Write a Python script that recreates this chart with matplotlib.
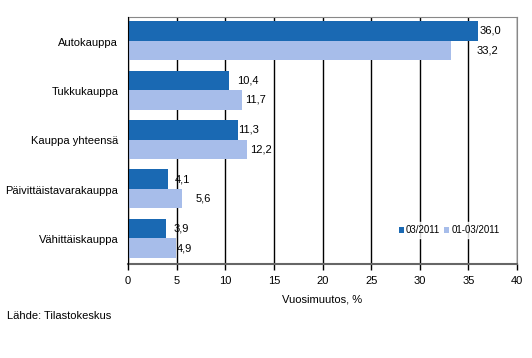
import matplotlib.pyplot as plt
import numpy as np

categories = ["Autokauppa", "Tukkukauppa", "Kauppa yhteensä",
              "Päivittäistavarakauppa", "Vähittäiskauppa"]
month = [36.0, 10.4, 11.3, 4.1, 3.9]
quarter = [33.2, 11.7, 12.2, 5.6, 4.9]
series_names = ["03/2011", "01-03/2011"]

# label nudges (pixels from bar end), as placed in the original
month_nudge = [1, 7.5, 0.5, 7, 7.5]
quarter_nudge = [25.5, 3.5, 3.5, 13.5, 1]

plt.rcParams["font.family"] = ["Liberation Sans", "DejaVu Sans"]
plt.rcParams["font.size"] = 8

fig = plt.figure(figsize=(5.32, 3.58), dpi=100)
ax = fig.add_axes([128 / 532, 1 - 264 / 358, 389 / 532, 247 / 358])

y = np.arange(len(categories))
h = 0.395
b1 = ax.barh(y - h / 2 - 0.02, month, height=h, color="#1A69B3", label=series_names[0], zorder=3)
b2 = ax.barh(y + h / 2 - 0.02, quarter, height=h, color="#A7BDEA", label=series_names[1], zorder=3)

fmt = lambda v: f"{v:.1f}".replace(".", ",")
for bars, vals, nudge in ((b1, month, month_nudge), (b2, quarter, quarter_nudge)):
    for bar, v, n in zip(bars, vals, nudge):
        ax.annotate(fmt(v), (bar.get_width(), bar.get_y() + bar.get_height() / 2),
                    xytext=(n * 0.72, 0), textcoords="offset points", va="center", ha="left",
                    zorder=1)

ax.set_xlim(0, 40)
ax.set_ylim(len(categories) - 0.5, -0.5)
ax.set_xticks(range(0, 41, 5))
ax.set_yticks(y)
ax.set_yticklabels(categories)
ax.tick_params(axis="y", length=0, pad=7)
ax.tick_params(axis="x", length=4, width=1, color="black", pad=5)
ax.grid(axis="x", color="black", linewidth=1, zorder=2)
ax.set_xlabel("Vuosimuutos, %", labelpad=6)

for s in ("top", "right"):
    ax.spines[s].set_color("#888888")
ax.spines["left"].set_color("black")
ax.spines["bottom"].set_color("#666666")
ax.spines["bottom"].set_linewidth(1.5)
ax.spines["left"].set_zorder(5)

leg = ax.legend(loc="lower right", bbox_to_anchor=(0.975, 0.085), ncol=2, frameon=True,
                fontsize=7, handlelength=0.55, handleheight=0.55, handletextpad=0.2,
                columnspacing=0.4, borderpad=0.3, fancybox=False)
leg.get_frame().set_edgecolor("white")
leg.get_frame().set_facecolor("white")
leg.set_zorder(6)

fig.text(7 / 532, 1 - 316 / 358, "Lähde: Tilastokeskus", va="center", ha="left")

fig.savefig("out.png", dpi=100)
